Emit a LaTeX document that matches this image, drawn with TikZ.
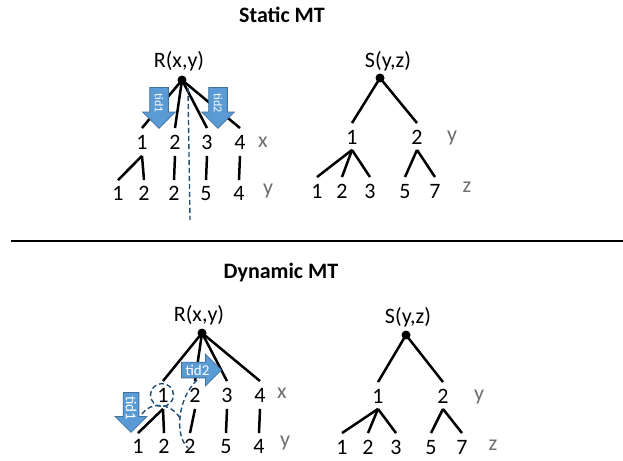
\documentclass[tikz,border=0pt]{standalone}
\usepackage{fontspec}
\setmainfont{Carlito}
\usetikzlibrary{shapes.arrows}
\definecolor{tidblue}{RGB}{91,155,213}
\definecolor{tidedge}{RGB}{65,113,156}
\definecolor{cutblue}{RGB}{31,78,121}
\definecolor{axisgray}{RGB}{110,110,110}
\tikzset{
  lbl/.style={inner sep=0pt, text height=13.5pt, text depth=0pt, font=\fontsize{22}{26}\selectfont},
  axislbl/.style={lbl, anchor=base, text=axisgray},
  rootdot/.style={circle, fill, inner sep=0pt, minimum size=9pt},
  branch/.style={line width=2.5pt},
  cutline/.style={cutblue, line width=1.4pt, dash pattern=on 5pt off 3pt},
  tidarrow/.style={single arrow, fill=tidblue, draw=tidedge, line width=0.8pt, text=white, single arrow tip angle=90, inner xsep=0pt, anchor=tail},
  tidsmall/.style={tidarrow, font=\fontsize{12}{14}\selectfont, text height=8.5pt, text depth=0pt, inner ysep=4.7pt, single arrow head extend=7pt, minimum height=41pt},
  tidbig/.style={tidarrow, font=\fontsize{15}{18}\selectfont, text height=10.5pt, text depth=0pt, inner ysep=2.2pt, single arrow head extend=8pt, minimum height=40pt},
  heading/.style={font=\fontsize{22}{26}\selectfont\bfseries}
}
\begin{document}
\begin{tikzpicture}[x=1pt,y=-1pt]
\useasboundingbox (0,0) rectangle (623,460);
% static MT
\node[heading] (t0) at (282,15) {Static MT};
\node[lbl] (rl0) at (179,61) {R(x,y)};
\node[rootdot] (r0) at (182,80) {};
\node[lbl] (r1) at (142,143) {1};
\node[lbl] (r2) at (175,143) {2};
\node[lbl] (r3) at (207,143) {3};
\node[lbl] (r4) at (240,143) {4};
\node[axislbl] (rx) at (263,147) {x};
\node[lbl] (r5) at (118,194) {1};
\node[lbl] (r6) at (144,194) {2};
\node[lbl] (r7) at (174,194) {2};
\node[lbl] (r8) at (206,194) {5};
\node[lbl] (r9) at (239,194) {4};
\node[axislbl] (ry) at (268,194) {y};
\foreach \c in {r1,r2,r3,r4}
  \draw[branch] (r0.center) -- ([yshift=8pt]\c.north);
\draw[branch] ([yshift=-6pt]r1.south) -- ([yshift=7pt]r5.north);
\draw[branch] ([yshift=-6pt]r1.south) -- ([yshift=7pt]r6.north);
\draw[branch] ([yshift=-6pt]r2.south) -- ([yshift=7pt]r7.north);
\draw[branch] ([yshift=-6pt]r3.south) -- ([yshift=7pt]r8.north);
\draw[branch] ([yshift=-6pt]r4.south) -- ([yshift=7pt]r9.north);
\coordinate (cut0) at (188,88);
\coordinate (cut1) at (190,220);
\draw[cutline] (cut0) -- (cut1);
\node[tidsmall, rotate=-90] (a1) at (159,87) {tid1};
\node[tidsmall, rotate=-90] (a2) at (218,87) {tid2};
\node[lbl] (sl0) at (388,61) {S(y,z)};
\node[rootdot] (s0) at (380,78) {};
\node[lbl] (s1) at (352,138) {1};
\node[lbl] (s2) at (417,138) {2};
\node[axislbl] (sy) at (452,141) {y};
\node[lbl] (s3) at (317,192) {1};
\node[lbl] (s4) at (342,192) {2};
\node[lbl] (s5) at (370,192) {3};
\node[lbl] (s6) at (405,192) {5};
\node[lbl] (s7) at (435,192) {7};
\node[axislbl] (sz) at (467,192) {z};
\draw[branch] (s0.center) -- ([yshift=8pt]s1.north);
\draw[branch] (s0.center) -- ([yshift=8pt]s2.north);
\foreach \c in {s3,s4,s5}
  \draw[branch] ([yshift=-5pt]s1.south) -- ([yshift=8pt]\c.north);
\foreach \c in {s6,s7}
  \draw[branch] ([yshift=-5pt]s2.south) -- ([yshift=8pt]\c.north);
\coordinate (hl0) at (11,241);
\coordinate (hl1) at (623,241);
\draw[line width=1.8pt] (hl0) -- (hl1);
% dynamic MT
\node[heading] (t1) at (281,273) {Dynamic MT};
\node[lbl] (rl1) at (199,315) {R(x,y)};
\node[rootdot] (q0) at (202,333) {};
\node[lbl] (q1) at (163,396) {1};
\node[lbl] (q2) at (195,396) {2};
\node[lbl] (q3) at (227,396) {3};
\node[lbl] (q4) at (260,396) {4};
\node[axislbl] (qx) at (282,398) {x};
\node[lbl] (q5) at (138,447) {1};
\node[lbl] (q6) at (164,447) {2};
\node[lbl] (q7) at (190,447) {2};
\node[lbl] (q8) at (226,447) {5};
\node[lbl] (q9) at (259,447) {4};
\node[axislbl] (qy) at (285,446) {y};
\foreach \c in {q1,q2,q3,q4}
  \draw[branch] (q0.center) -- ([yshift=8pt]\c.north);
\draw[branch] ([yshift=-6pt]q1.south) -- ([yshift=7pt]q5.north);
\draw[branch] ([yshift=-6pt]q1.south) -- ([yshift=7pt]q6.north);
\draw[branch] ([yshift=-6pt]q2.south) -- ([yshift=7pt]q7.north);
\draw[branch] ([yshift=-6pt]q3.south) -- ([yshift=7pt]q8.north);
\draw[branch] ([yshift=-6pt]q4.south) -- ([yshift=7pt]q9.north);
\node[circle, cutline, draw, minimum size=23pt] (c1) at (162,395) {};
\node[tidbig, rotate=-90] (b1) at (131,392) {tid1};
\node[tidbig] (b2) at (181,370) {tid2};
\coordinate (d0) at (142,414);
\coordinate (d1) at (180,418);
\coordinate (d2) at (197,380);
\coordinate (d3) at (188,448);
\draw[cutline] (d0) .. controls (150,402) and (170,402) .. (d1);
\draw[cutline] (d2) .. controls (178,398) and (174,435) .. (d3);
\node[lbl] (sl1) at (408,317) {S(y,z)};
\node[rootdot] (p0) at (406,335) {};
\node[lbl] (p1) at (378,397) {1};
\node[lbl] (p2) at (443,397) {2};
\node[axislbl] (py) at (479,400) {y};
\node[lbl] (p3) at (342,448) {1};
\node[lbl] (p4) at (368,448) {2};
\node[lbl] (p5) at (396,448) {3};
\node[lbl] (p6) at (431,448) {5};
\node[lbl] (p7) at (462,448) {7};
\node[axislbl] (pz) at (493,450) {z};
\draw[branch] (p0.center) -- ([yshift=8pt]p1.north);
\draw[branch] (p0.center) -- ([yshift=8pt]p2.north);
\foreach \c in {p3,p4,p5}
  \draw[branch] ([yshift=-5pt]p1.south) -- ([yshift=8pt]\c.north);
\foreach \c in {p6,p7}
  \draw[branch] ([yshift=-5pt]p2.south) -- ([yshift=8pt]\c.north);
\end{tikzpicture}
\end{document}
